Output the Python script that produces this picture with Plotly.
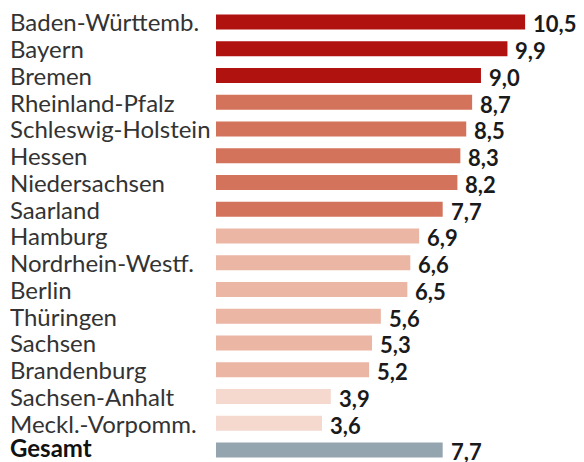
import plotly.graph_objects as go

states = ["Baden-Württemb.", "Bayern", "Bremen", "Rheinland-Pfalz", "Schleswig-Holstein",
          "Hessen", "Niedersachsen", "Saarland", "Hamburg", "Nordrhein-Westf.", "Berlin",
          "Thüringen", "Sachsen", "Brandenburg", "Sachsen-Anhalt", "Meckl.-Vorpomm.", "Gesamt"]
values = [10.5, 9.9, 9.0, 8.7, 8.5, 8.3, 8.2, 7.7, 6.9, 6.6, 6.5, 5.6, 5.3, 5.2, 3.9, 3.6, 7.7]
value_labels = ["10,5", "9,9", "9,0", "8,7", "8,5", "8,3", "8,2", "7,7", "6,9", "6,6", "6,5",
                "5,6", "5,3", "5,2", "3,9", "3,6", "7,7"]

DARK = "#b01210"
MED = "#d4735c"
LIGHT = "#ebb6a4"
PALE = "#f5d9cf"
GRAY = "#95a5b0"
colors = [DARK]*3 + [MED]*5 + [LIGHT]*6 + [PALE]*2 + [GRAY]

FONT = "Lato"
fig = go.Figure(go.Bar(
    x=values, y=states, orientation="h",
    marker=dict(color=colors, line=dict(width=0)),
    width=0.56, hoverinfo="skip",
))

annotations = []
for s, v, lab in zip(states, values, value_labels):
    annotations.append(dict(
        x=v, y=s, xref="x", yref="y", text=f"<b>{lab}</b>", showarrow=False,
        xanchor="left", yanchor="middle", xshift=6, yshift=-2,
        font=dict(family=FONT, size=22, color="#1a1a1a")))
    gesamt = s == "Gesamt"
    txt = f"<b>{s}</b>" if gesamt else s
    annotations.append(dict(
        x=(0 - 208) / 368, y=s, xref="paper", yref="y", text=txt, showarrow=False,
        xanchor="left", yanchor="middle", yshift=2 if gesamt else 0,
        font=dict(family=FONT, size=24, color="#111111" if gesamt else "#333333")))

fig.update_layout(
    width=576, height=454,
    margin=dict(l=208, r=0, t=0, b=0),
    paper_bgcolor="white", plot_bgcolor="white",
    showlegend=False,
    xaxis=dict(range=[0, 12.5], visible=False, fixedrange=True),
    yaxis=dict(range=[16.449, -0.523], visible=False, fixedrange=True),
    annotations=annotations,
    font=dict(family=FONT),
)

fig.write_html("out.html")
